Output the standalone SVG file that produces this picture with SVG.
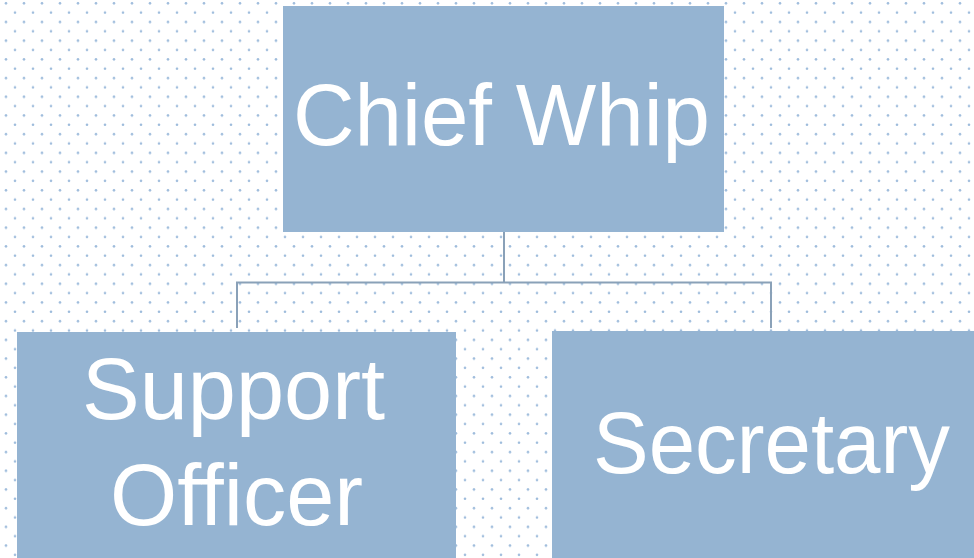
<svg xmlns="http://www.w3.org/2000/svg" width="974" height="558" viewBox="0 0 974 558">
<defs>
<pattern id="dots" x="0" y="0" width="18" height="18.7" patternUnits="userSpaceOnUse">
<circle cx="6" cy="3.3" r="1.3" fill="#9ebcdc"/>
<circle cx="15" cy="12.6" r="1.3" fill="#9ebcdc"/>
</pattern>
<style>
.box{fill:#95b4d2}
.lbl{fill:#ffffff;font-family:"Liberation Sans","Open Sans",sans-serif;font-size:87px}
.conn{stroke:#8aa1b8;stroke-width:2;fill:none}
</style>
</defs>
<rect width="974" height="558" fill="#ffffff"/>
<rect width="974" height="558" fill="url(#dots)"/>
<g id="connectors">
<path class="conn" d="M504 232 V282.5 M237 328 V282.5 H771 V328"/>
</g>
<g id="chief-whip">
<rect class="box" x="283" y="6" width="441" height="226"/>
<text class="lbl" x="293" y="145" textLength="417" lengthAdjust="spacingAndGlyphs">Chief Whip</text>
</g>
<g id="support-officer">
<rect class="box" x="17" y="332" width="439" height="226"/>
<text class="lbl"><tspan x="82" y="419" textLength="303" lengthAdjust="spacingAndGlyphs">Support</tspan><tspan x="110" y="525" textLength="253" lengthAdjust="spacingAndGlyphs">Officer</tspan></text>
</g>
<g id="secretary">
<rect class="box" x="552" y="331" width="422" height="227"/>
<text class="lbl" x="593" y="473" textLength="357" lengthAdjust="spacingAndGlyphs">Secretary</text>
</g>
</svg>
